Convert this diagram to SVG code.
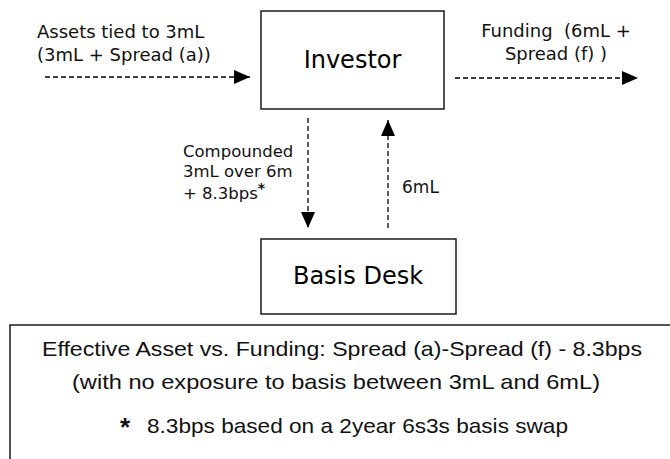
<svg xmlns="http://www.w3.org/2000/svg" width="670" height="459" viewBox="0 0 670 459">
<defs>
<style>
.box{fill:#fff;stroke:#1a1a1a;stroke-width:1.5}
.lbl{font-family:"DejaVu Sans",Verdana,sans-serif;font-size:16.5px;fill:#111}
.node{font-family:"DejaVu Sans",Verdana,sans-serif;font-size:24px;fill:#000;text-anchor:middle}
.note{font-family:"Liberation Sans",Arial,sans-serif;font-size:21px;fill:#111}
.con{stroke:#000;stroke-width:1.3;stroke-dasharray:5 3;fill:none}
</style>
<marker id="arr" markerWidth="16" markerHeight="14" refX="16" refY="7" orient="auto" markerUnits="userSpaceOnUse">
<path d="M0,0 L16,7 L0,14 z" fill="#000"/>
</marker>
</defs>
<rect width="670" height="459" fill="#fff"/>
<g id="connectors">
<path class="con" d="M45,77 L250,77" marker-end="url(#arr)"/>
<path class="con" d="M455,78 L638,78" marker-end="url(#arr)"/>
<path class="con" d="M308,118 L308,228" marker-end="url(#arr)"/>
<path class="con" d="M388,228 L388,120" marker-end="url(#arr)"/>
</g>
<g id="labels">
<text class="lbl" style="font-size:18px" x="37" y="38">Assets tied to 3mL</text>
<text class="lbl" style="font-size:18px" x="37" y="61">(3mL + Spread (a))</text>
<text class="lbl" style="font-size:18px" x="556" y="37" text-anchor="middle" xml:space="preserve">Funding  (6mL +</text>
<text class="lbl" style="font-size:18px" x="556" y="60" text-anchor="middle">Spread (f) )</text>
<text class="lbl" x="183" y="157">Compounded</text>
<text class="lbl" x="183" y="177">3mL over 6m</text>
<text class="lbl" x="183" y="199">+ 8.3bps<tspan font-weight="bold" font-size="14" dy="-6">*</tspan></text>
<text class="lbl" style="font-size:17px" x="402" y="193">6mL</text>
</g>
<g id="investor">
<rect class="box" x="261" y="11" width="183" height="98"/>
<text class="node" x="352.5" y="68">Investor</text>
</g>
<g id="basis-desk">
<rect class="box" x="261" y="239" width="195" height="75"/>
<text class="node" x="358" y="284">Basis Desk</text>
</g>
<g id="summary">
<rect class="box" x="10" y="325" width="700" height="200"/>
<text class="note" x="342" y="356" text-anchor="middle" textLength="600" lengthAdjust="spacingAndGlyphs">Effective Asset vs. Funding: Spread (a)-Spread (f) - 8.3bps</text>
<text class="note" x="336" y="389" text-anchor="middle" textLength="528" lengthAdjust="spacingAndGlyphs">(with no exposure to basis between 3mL and 6mL)</text>
<text class="note" x="120" y="436" style="font-size:26px;font-weight:bold">*</text>
<text class="note" x="147" y="433" textLength="421" lengthAdjust="spacingAndGlyphs">8.3bps based on a 2year 6s3s basis swap</text>
</g>
</svg>
